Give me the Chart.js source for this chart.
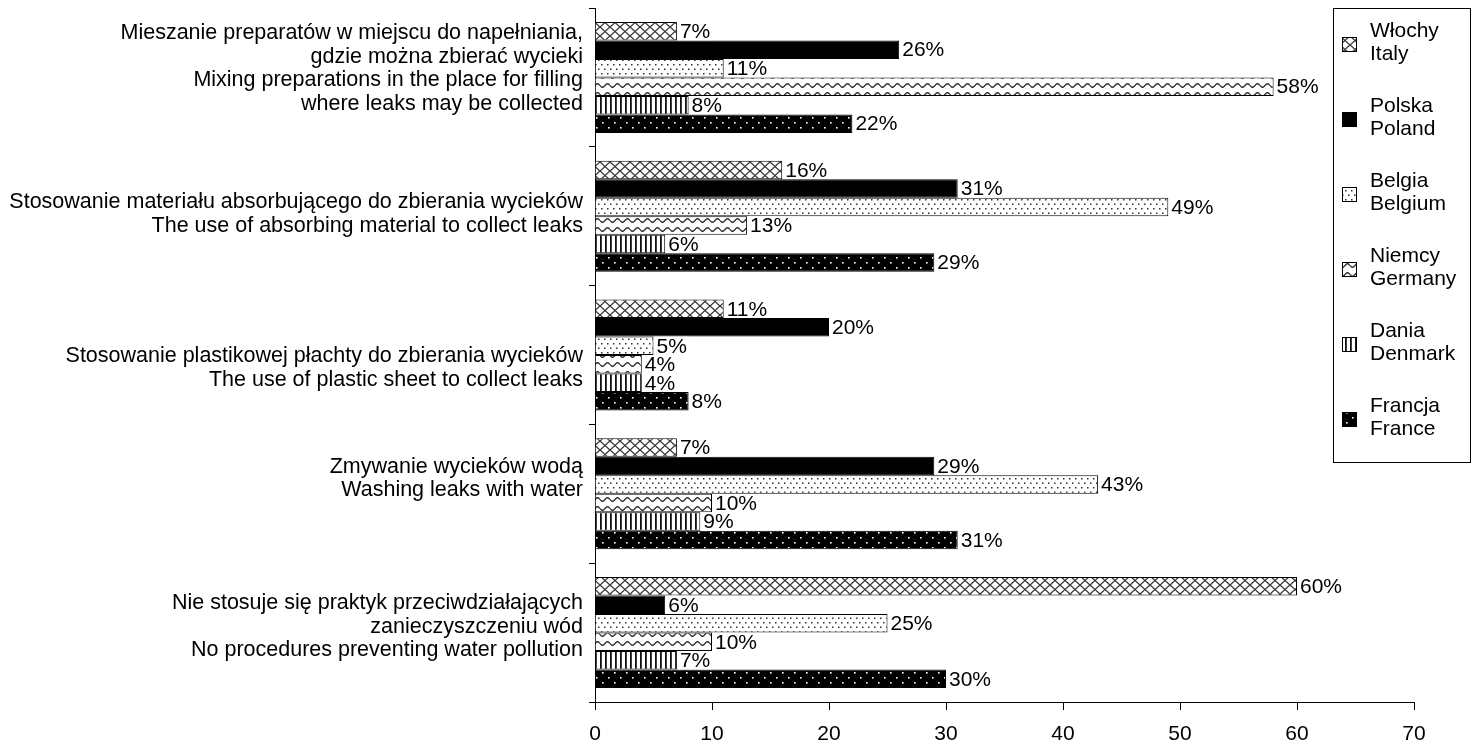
<!DOCTYPE html>
<html>
<head>
<meta charset="utf-8">
<title>Praktyki zapobiegania wyciekom</title>
<script src="https://cdn.jsdelivr.net/npm/chart.js@4.4.1/dist/chart.umd.min.js"></script>
<style>
  body { margin: 0; background: #fff; }
  #wrap { width: 1474px; height: 747px; }
</style>
</head>
<body>
<div id="wrap"><canvas id="practices" width="1474" height="747"></canvas></div>
<script>
const categories = [
    ['Mieszanie preparatów w miejscu do napełniania,', 'gdzie można zbierać wycieki', 'Mixing preparations in the place for filling', 'where leaks may be collected'],
    ['Stosowanie materiału absorbującego do zbierania wycieków', 'The use of absorbing material to collect leaks'],
    ['Stosowanie plastikowej płachty do zbierania wycieków', 'The use of plastic sheet to collect leaks'],
    ['Zmywanie wycieków wodą', 'Washing leaks with water'],
    ['Nie stosuje się praktyk przeciwdziałających', 'zanieczyszczeniu wód', 'No procedures preventing water pollution']
]
const countryNames = [
    ['Włochy', 'Italy'],
    ['Polska', 'Poland'],
    ['Belgia', 'Belgium'],
    ['Niemcy', 'Germany'],
    ['Dania', 'Denmark'],
    ['Francja', 'France']
]
const italy = [7, 16, 11, 7, 60]
const poland = [26, 31, 20, 29, 6]
const belgium = [11, 49, 5, 43, 25]
const germany = [58, 13, 4, 10, 10]
const denmark = [8, 6, 4, 9, 7]
const france = [22, 29, 8, 31, 30]
const xTicks = [0, 10, 20, 30, 40, 50, 60, 70]

const FONT = "'Liberation Sans', Arial, sans-serif"
const FSIZE = 21
const LABEL_SIZE = 21.5
const LINE_H = 23.5
// the category labels don't sit exactly centred on their groups
const labelNudge = [-9, -2, 13, -15, -6]

// small tiles for the hatch fills
function makeTile(w, h, draw) {
    const c = document.createElement('canvas')
    c.width = w
    c.height = h
    const g = c.getContext('2d')
    draw(g, w, h)
    return document.getElementById('practices').getContext('2d').createPattern(c, 'repeat')
}

const crossHatch = makeTile(10, 9, (g, w, h) => {
    g.fillStyle = '#fff'
    g.fillRect(0, 0, w, h)
    g.strokeStyle = '#333'
    g.lineWidth = 1.3
    g.beginPath()
    g.moveTo(0, 0); g.lineTo(w, h)
    g.moveTo(w, 0); g.lineTo(0, h)
    g.stroke()
})
const lightDots = makeTile(6, 9, (g, w, h) => {
    g.fillStyle = '#fff'
    g.fillRect(0, 0, w, h)
    g.fillStyle = '#333'
    g.fillRect(1, 1, 1.5, 1.5)
    g.fillRect(4, 5.5, 1.5, 1.5)
})
const waves = makeTile(10, 9, (g, w, h) => {
    g.fillStyle = '#fff'
    g.fillRect(0, 0, w, h)
    g.strokeStyle = '#333'
    g.lineWidth = 1.4
    g.beginPath()
    for (let x = 0; x <= w; x += 0.5) {
        const y = 4.5 + 1.8 * Math.sin(x / w * Math.PI * 2)
        if (x === 0) g.moveTo(x, y)
        else g.lineTo(x, y)
    }
    g.stroke()
})
const verticals = makeTile(5, 4, (g, w, h) => {
    g.fillStyle = '#fff'
    g.fillRect(0, 0, w, h)
    g.fillStyle = '#111'
    g.fillRect(0, 0, 1.8, h)
})
const darkDots = makeTile(12, 10, (g, w, h) => {
    g.fillStyle = '#000'
    g.fillRect(0, 0, w, h)
    g.fillStyle = '#fff'
    g.fillRect(2, 2, 1.6, 1.6)
    g.fillRect(8, 7, 1.6, 1.6)
})

const fills = [crossHatch, '#000', lightDots, waves, verticals, darkDots]
const series = [italy, poland, belgium, germany, denmark, france]

// value labels at bar ends
const valueLabels = {
    id: 'valueLabels',
    afterDatasetsDraw(chart) {
        const ctx = chart.ctx
        ctx.save()
        ctx.font = FSIZE + 'px ' + FONT
        ctx.textBaseline = 'middle'
        chart.data.datasets.forEach((ds, i) => {
            const meta = chart.getDatasetMeta(i)
            meta.data.forEach((bar, j) => {
                const txt = ds.data[j] + '%'
                const w = ctx.measureText(txt).width
                ctx.fillStyle = '#fff'
                ctx.fillRect(bar.x + 1, bar.y - 9, w + 4, 18)
                ctx.fillStyle = '#000'
                ctx.fillText(txt, bar.x + 3, bar.y + 1)
            })
        })
        ctx.restore()
    }
}

// multi-line category names, right aligned against the y axis
const categoryNames = {
    id: 'categoryNames',
    afterDraw(chart) {
        const ctx = chart.ctx
        const yScale = chart.scales.y
        ctx.save()
        ctx.font = LABEL_SIZE + 'px ' + FONT
        ctx.textAlign = 'right'
        ctx.textBaseline = 'middle'
        ctx.fillStyle = '#000'
        categories.forEach((lines, i) => {
            const cy = yScale.getPixelForValue(i) + labelNudge[i]
            const y0 = cy - (lines.length - 1) * LINE_H / 2
            lines.forEach((line, k) => {
                ctx.fillText(line, chart.chartArea.left - 12, y0 + k * LINE_H)
            })
        })
        ctx.restore()
    }
}

// boxed legend with two-line names
const boxLegend = {
    id: 'boxLegend',
    afterDraw(chart) {
        const ctx = chart.ctx
        ctx.save()
        ctx.fillStyle = '#fff'
        ctx.fillRect(1333, 8, 137, 454)
        ctx.strokeStyle = '#000'
        ctx.lineWidth = 1
        ctx.strokeRect(1333.5, 8.5, 137, 454)
        ctx.font = FSIZE + 'px ' + FONT
        ctx.textBaseline = 'middle'
        chart.data.datasets.forEach((ds, i) => {
            const top = 31 + i * 75
            const mid = top + 13
            ctx.fillStyle = ds.backgroundColor
            ctx.fillRect(1342, mid - 7, 15, 15)
            ctx.strokeStyle = '#000'
            ctx.strokeRect(1342.5, mid - 6.5, 14, 14)
            ctx.fillStyle = '#000'
            ctx.fillText(countryNames[i][0], 1370, top)
            ctx.fillText(countryNames[i][1], 1370, top + 23)
        })
        ctx.restore()
    }
}

const config = {
    type: 'bar',
    data: {
        labels: categories.map((lines) => lines.join(' ')),
        datasets: series.map((vals, i) => ({
            label: countryNames[i].join(' '),
            data: vals,
            backgroundColor: fills[i],
            borderColor: '#000',
            borderWidth: 1,
            categoryPercentage: 0.8,
            barPercentage: 1.0
        }))
    },
    options: {
        indexAxis: 'y',
        responsive: false,
        animation: false,
        layout: { padding: { top: 8, right: 60, left: 0, bottom: 0 } },
        plugins: {
            legend: { display: false },
            tooltip: { enabled: false }
        },
        scales: {
            x: {
                min: 0,
                max: 70,
                afterBuildTicks: (scale) => {
                    scale.ticks = xTicks.map((v) => ({ value: v }))
                },
                afterFit: (scale) => {
                    scale.height = 45
                    scale.paddingLeft = 0
                    scale.paddingRight = 0
                },
                grid: { drawOnChartArea: false, tickLength: 8, color: '#000' },
                border: { color: '#000' },
                ticks: { color: '#000', padding: 12, font: { family: FONT, size: FSIZE } }
            },
            y: {
                afterFit: (scale) => {
                    scale.width = 595
                    scale.paddingTop = 0
                    scale.paddingBottom = 0
                },
                grid: { offset: true, drawOnChartArea: false, tickLength: 6, color: '#000' },
                border: { color: '#000' },
                ticks: { display: false }
            }
        }
    },
    plugins: [valueLabels, categoryNames, boxLegend]
}

document.addEventListener('DOMContentLoaded', () => {
    new Chart(document.getElementById('practices'), config)
})
</script>
</body>
</html>
